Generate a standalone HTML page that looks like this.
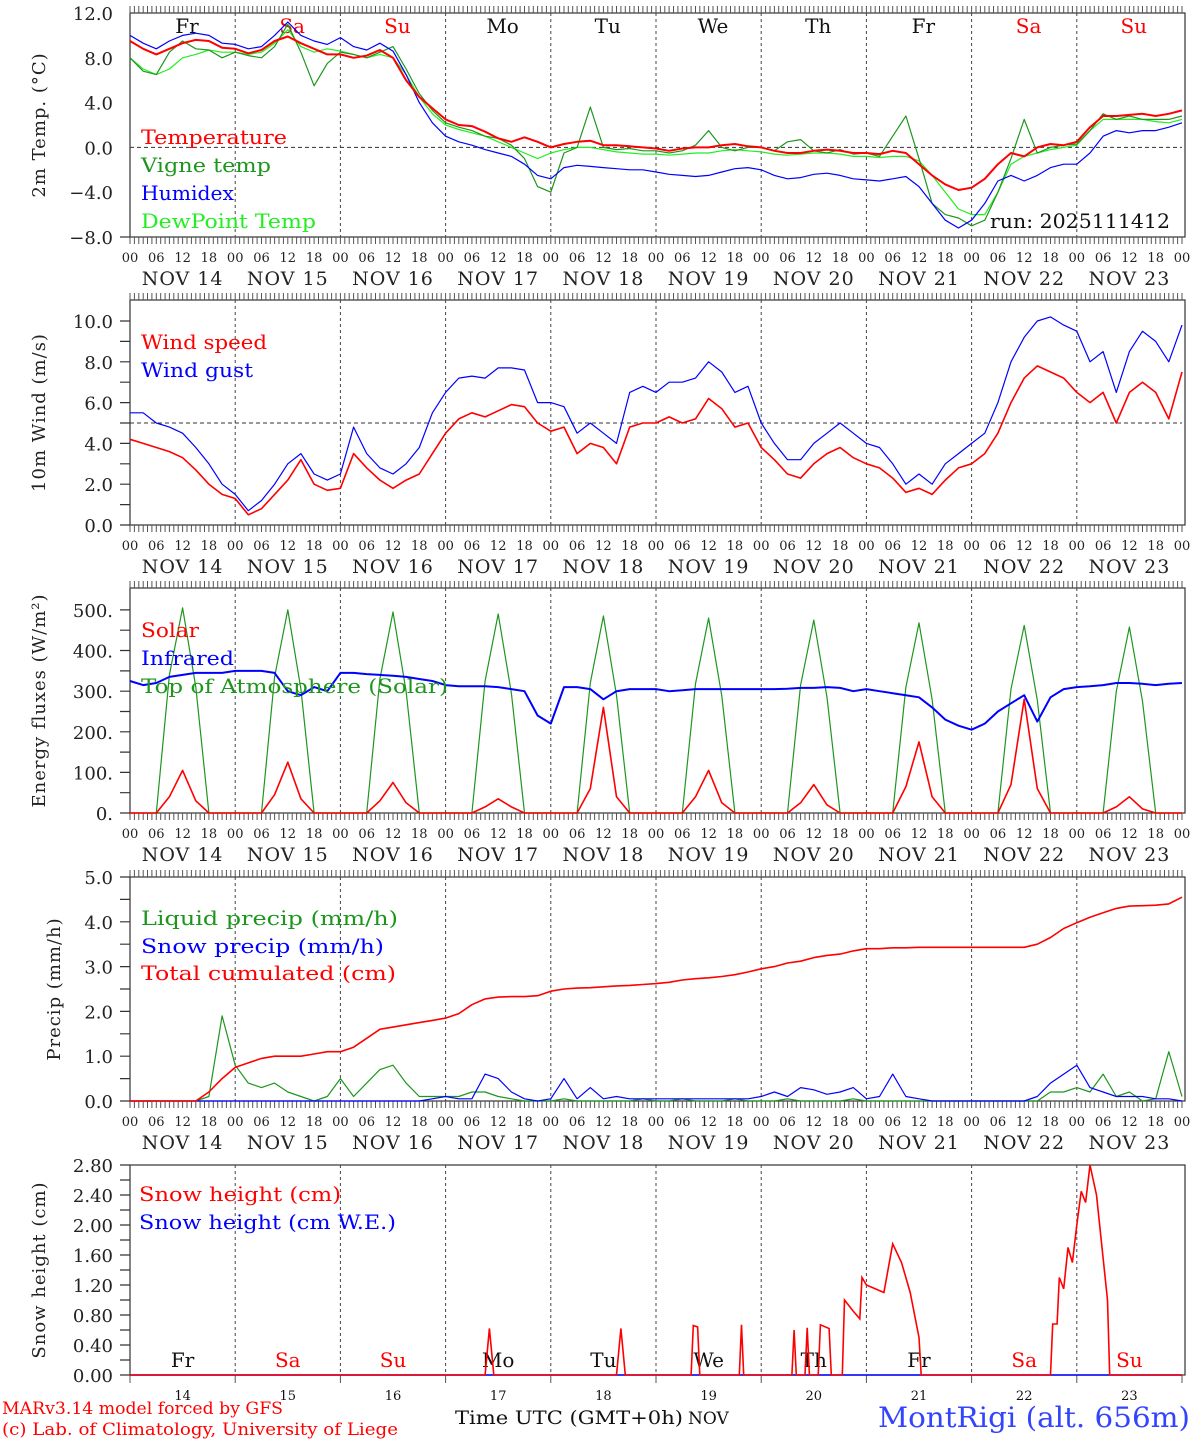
<!DOCTYPE html>
<html><head><meta charset="utf-8"><style>
html,body{margin:0;padding:0;background:#fff;}
svg{display:block;font-family:"DejaVu Serif","Liberation Serif",serif;}
</style></head><body>
<svg id="chart" width="1194" height="1440" viewBox="0 0 1194 1440" xmlns="http://www.w3.org/2000/svg"></svg>
<script>
// ---- data (3-hourly from NOV 14 00 UTC to NOV 24 00 UTC) ----
const dayNames = ["Fr","Sa","Su","Mo","Tu","We","Th","Fr","Sa","Su"];
const dayNums = ["14","15","16","17","18","19","20","21","22","23"];
const hourLabels = ["00","06","12","18"];
const temperature = [9.5,8.8,8.3,8.8,9.3,9.6,9.5,8.9, 8.8,8.4,8.7,9.5,9.9,9.3,8.8,8.3, 8.3,8.0,8.2,8.7,8.0,6.0,4.5,3.5, 2.5,2.0,1.9,1.4,0.8,0.5,0.9,0.5, 0.0,0.3,0.5,0.6,0.2,0.2,0.1,0.0, -0.1,-0.3,-0.1,0.0,0.0,0.2,0.3,0.1, 0.0,-0.3,-0.5,-0.5,-0.3,-0.2,-0.3,-0.5, -0.5,-0.6,-0.3,-0.5,-1.5,-2.5,-3.3,-3.8, -3.6,-2.8,-1.5,-0.5,-0.8,0.0,0.3,0.2, 0.5,1.8,2.8,2.8,2.9,3.0,2.8,3.0,3.3];
const vigneTemp = [8.0,6.8,6.5,8.5,9.5,8.8,8.7,8.0, 8.5,8.2,8.0,9.0,11.0,8.5,5.5,7.5, 8.5,8.3,8.0,8.5,9.0,7.0,4.8,3.3, 2.2,1.8,1.5,1.0,0.8,0.2,-1.0,-3.5, -4.0,-0.5,0.0,3.6,0.0,-0.2,-0.1,-0.3, -0.3,-0.5,-0.3,0.2,1.5,0.0,-0.3,0.0, 0.0,-0.3,0.5,0.7,-0.3,-0.5,-0.2,-0.6, -0.5,-0.8,1.0,2.8,-1.0,-5.0,-6.0,-6.3, -7.0,-6.5,-4.0,-1.0,2.5,-0.5,0.0,0.2, 0.3,1.5,3.0,2.5,2.8,2.5,2.5,2.5,2.8];
const humidex = [10.0,9.3,8.8,9.5,10.0,10.2,10.0,9.3, 9.2,8.8,9.0,10.0,11.2,10.0,9.5,9.2, 9.8,9.0,8.7,9.3,8.6,6.5,4.0,2.2, 1.0,0.5,0.2,-0.2,-0.5,-0.8,-1.5,-2.5, -2.8,-1.8,-1.6,-1.7,-1.8,-1.9,-2.0,-2.0, -2.2,-2.4,-2.5,-2.6,-2.5,-2.2,-1.9,-1.8, -2.0,-2.5,-2.8,-2.7,-2.4,-2.3,-2.5,-2.8, -2.9,-3.0,-2.8,-2.6,-3.5,-5.0,-6.5,-7.2, -6.5,-5.0,-3.0,-2.5,-3.0,-2.5,-1.8,-1.5, -1.5,-0.5,1.0,1.5,1.3,1.5,1.5,1.8,2.2];
const dewPoint = [8.0,7.0,6.5,7.0,8.0,8.3,8.7,8.5, 8.5,8.3,8.5,9.3,10.5,9.0,8.5,8.8, 8.6,8.3,8.0,8.3,8.0,6.5,4.5,3.0, 2.0,1.6,1.3,1.0,0.5,0.0,-0.5,-1.0, -0.5,-0.2,0.0,0.0,-0.2,-0.4,-0.5,-0.6, -0.6,-0.7,-0.6,-0.5,-0.5,-0.3,-0.2,-0.3, -0.4,-0.6,-0.7,-0.6,-0.5,-0.5,-0.6,-0.8, -0.8,-0.9,-0.8,-0.8,-1.2,-2.5,-4.0,-5.5, -6.0,-6.0,-4.0,-1.5,-0.8,-0.5,-0.2,0.0, 0.2,1.5,2.5,2.5,2.5,2.5,2.3,2.2,2.5];
const windSpeed = [4.2,4.0,3.8,3.6,3.3,2.7,2.0,1.5, 1.3,0.5,0.8,1.5,2.2,3.2,2.0,1.7, 1.8,3.5,2.8,2.2,1.8,2.2,2.5,3.5, 4.5,5.2,5.5,5.3,5.6,5.9,5.8,5.0, 4.6,4.8,3.5,4.0,3.8,3.0,4.8,5.0, 5.0,5.3,5.0,5.2,6.2,5.7,4.8,5.0, 3.8,3.2,2.5,2.3,3.0,3.5,3.8,3.3, 3.0,2.8,2.3,1.6,1.8,1.5,2.2,2.8, 3.0,3.5,4.5,6.0,7.2,7.8,7.5,7.2, 6.5,6.0,6.5,5.0,6.5,7.0,6.5,5.2,7.5];
const windGust = [5.5,5.5,5.0,4.8,4.5,3.8,3.0,2.0, 1.5,0.7,1.2,2.0,3.0,3.5,2.5,2.2, 2.5,4.8,3.5,2.8,2.5,3.0,3.8,5.5, 6.5,7.2,7.3,7.2,7.7,7.7,7.6,6.0, 6.0,5.8,4.5,5.0,4.5,4.0,6.5,6.8, 6.5,7.0,7.0,7.2,8.0,7.5,6.5,6.8, 5.0,4.0,3.2,3.2,4.0,4.5,5.0,4.5, 4.0,3.8,3.0,2.0,2.5,2.0,3.0,3.5, 4.0,4.5,6.0,8.0,9.2,10.0,10.2,9.8, 9.5,8.0,8.5,6.5,8.5,9.5,9.0,8.0,9.8];
const solar = [0,0,0,40,105,30,0,0, 0,0,0,45,125,35,0,0, 0,0,0,30,75,25,0,0, 0,0,0,15,35,15,0,0, 0,0,0,60,260,40,0,0, 0,0,0,40,105,25,0,0, 0,0,0,25,70,20,0,0, 0,0,0,65,175,40,0,0, 0,0,0,70,280,60,0,0, 0,0,0,15,40,10,0,0,0];
const toaSolar = [0,0,0,340,505,310,0,0, 0,0,0,335,500,305,0,0, 0,0,0,330,495,300,0,0, 0,0,0,325,490,295,0,0, 0,0,0,320,485,290,0,0, 0,0,0,318,480,288,0,0, 0,0,0,315,475,285,0,0, 0,0,0,310,468,280,0,0, 0,0,0,305,462,278,0,0, 0,0,0,300,458,275,0,0,0];
const infrared = [325,315,320,335,340,345,345,345, 350,350,350,345,300,290,310,300, 345,345,342,340,338,335,330,325, 315,312,312,312,310,305,300,240, 220,310,310,305,280,300,305,305, 305,300,302,305,305,305,305,305, 305,305,306,308,308,310,308,300, 305,300,295,290,285,260,230,215, 205,220,250,270,290,225,285,305, 310,312,315,320,320,318,315,318,320];
const liquidPrecip = [0,0,0,0,0,0,0.1,1.9, 0.8,0.4,0.3,0.4,0.2,0.1,0,0.1, 0.5,0.1,0.4,0.7,0.8,0.4,0.1,0.1, 0.1,0.1,0.2,0.2,0.1,0.05,0,0, 0,0.05,0,0,0,0,0,0.05, 0,0,0.05,0,0,0,0.05,0, 0,0,0.05,0,0,0,0,0.05, 0,0,0,0,0,0,0,0, 0,0,0,0,0,0,0.2,0.2, 0.3,0.2,0.6,0.1,0.2,0,0.05,1.1,0.1];
const snowPrecip = [0,0,0,0,0,0,0,0, 0,0,0,0,0,0,0,0, 0,0,0,0,0,0,0,0.05, 0.1,0.05,0.05,0.6,0.5,0.2,0.05,0, 0.05,0.5,0.05,0.3,0.05,0.1,0.05,0.05, 0.05,0.05,0.05,0.05,0.05,0.05,0.05,0.05, 0.1,0.2,0.1,0.3,0.25,0.15,0.2,0.3, 0.05,0.1,0.6,0.1,0.05,0,0,0, 0,0,0,0,0,0.1,0.4,0.6, 0.8,0.3,0.2,0.1,0.1,0.1,0.05,0.05,0];
const totalCum = [0,0,0,0,0,0,0.2,0.5, 0.75,0.85,0.95,1.0,1.0,1.0,1.05,1.1, 1.1,1.2,1.4,1.6,1.65,1.7,1.75,1.8, 1.85,1.95,2.15,2.28,2.32,2.33,2.33,2.35, 2.45,2.5,2.52,2.53,2.55,2.57,2.58,2.6, 2.62,2.65,2.7,2.73,2.75,2.78,2.82,2.88, 2.95,3.0,3.08,3.12,3.2,3.25,3.28,3.35, 3.4,3.4,3.42,3.42,3.43,3.43,3.43,3.43, 3.43,3.43,3.43,3.43,3.43,3.5,3.65,3.85, 3.98,4.1,4.2,4.3,4.35,4.36,4.37,4.4,4.55];
const snowHours = [0,81,82,83,111,112,113,128,128.5,129.5,130,139,139.5,140,151,151.5,152,154,154.5,155,157,157.5,159.5,160,162.5,163,165,166.5,167,168,172,174,176,178,180,180.5,210,210.5,211.5,212,213,214,215,216,217,218,219,220.5,223,223.5,240];
const snowHeight = [0,0,0.62,0,0,0.62,0,0,0.66,0.64,0,0,0.67,0,0,0.6,0,0,0.63,0,0,0.67,0.62,0,0,1.0,0.85,0.75,1.3,1.2,1.1,1.75,1.5,1.1,0.5,0,0,0.68,0.68,1.3,1.15,1.7,1.5,2.0,2.45,2.3,2.8,2.4,1.0,0,0];
const snowWE = [0,0,0,0,0,0,0,0,0,0,0];

// ---- layout ----
const svg = document.getElementById('chart');
const NS = 'http://www.w3.org/2000/svg';
const X0 = 130, X1 = 1182, HOURS = 240;
const X = h => X0 + h * (X1 - X0) / HOURS;
const RED = '#ff0000', GREEN = '#1e961e', BLUE = '#0000ff', LGREEN = '#22ee22';
function el(tag, attrs, parent) {
  const e = document.createElementNS(NS, tag);
  for (const k in attrs) e.setAttribute(k, attrs[k]);
  (parent || svg).appendChild(e);
  return e;
}
function txt(s, x, y, size, color, anchor, parent) {
  const t = el('text', {x: x, y: y, 'font-size': size, fill: color, 'text-anchor': anchor || 'start'}, parent);
  t.textContent = s;
  return t;
}
const panels = [
  {name: 'temperature-panel', top: 13, bot: 237, vmin: -8, vmax: 12, frameTop: 13, ticks: [12,8,4,0,-4,-8], minor: 2, dec: 1, title: '2m Temp. (\u00B0C)', tx: 45},
  {name: 'wind-panel', top: 300, bot: 525, vmin: 0, vmax: 11.03, frameTop: 300, ticks: [0,2,4,6,8,10], minor: 1, dec: 1, title: '10m Wind (m/s)', tx: 45},
  {name: 'energy-panel', top: 588, bot: 813, vmin: 0, vmax: 554, frameTop: 588, ticks: [0,100,200,300,400,500], minor: 50, dec: -1, title: 'Energy fluxes (W/m\u00B2)', tx: 45},
  {name: 'precip-panel', top: 877, bot: 1101, vmin: 0, vmax: 5, frameTop: 877, ticks: [0,1,2,3,4,5], minor: 0.5, dec: 1, title: 'Precip (mm/h)', tx: 60},
  {name: 'snow-panel', top: 1165, bot: 1375, vmin: 0, vmax: 2.8, frameTop: 1165, ticks: [0,0.4,0.8,1.2,1.6,2.0,2.4,2.8], minor: 0.2, dec: 2, title: 'Snow height (cm)', tx: 45}
];
panels.forEach((p, pi) => {
  p.Y = v => p.bot - (v - p.vmin) * (p.bot - p.top) / (p.vmax - p.vmin);
  const g = el('g', {});
  
  
  const fr = el('rect', {x: X0, y: p.frameTop, width: X1 - X0 + 3, height: p.bot - p.frameTop, fill: 'none', stroke: '#333', 'stroke-width': 1.2}, g);
  
  
  let d = '';
  for (let h = 0; h <= HOURS; h++) {
    const x = X(h).toFixed(1);
    if (pi === 4) { if (h % 24 === 0) d += `M${x} ${p.bot}v8`; continue; }
    d += `M${x} ${p.frameTop}v-7M${x} ${p.bot}v7`;
  }
  const tk = el('path', {d: d, stroke: '#555', 'stroke-width': 1, fill: 'none'}, g);
  
  
  let yd = '';
  for (let v = p.vmin; v <= p.ticks[p.ticks.length - 1] + 1e-6; v += p.minor) yd += `M${X0 - 10} ${p.Y(v).toFixed(1)}h10`;
  const yt = el('path', {d: yd, stroke: '#333', 'stroke-width': 1.2}, g);
  
  
  p.ticks.forEach(v => {
    let lab = p.dec < 0 ? v + '.' : Math.abs(v).toFixed(p.dec);
    if (v < 0) lab = '\u2212' + lab;
    const t = txt(lab, 113, p.Y(v) + 7, 18, '#222', 'end', g);
    
    
  });
  const cy = (p.top + p.bot) / 2;
  const yt2 = el('text', {x: p.tx, y: cy, 'font-size': 18, fill: '#222', 'text-anchor': 'middle', transform: `rotate(-90 ${p.tx} ${cy})`, 'letter-spacing': 1}, g);
  yt2.textContent = p.title;
  
  
  let dd = '';
  for (let k = 1; k < 10; k++) dd += `M${X(k*24).toFixed(1)} ${p.frameTop}V${p.bot}`;
  const ds = el('path', {d: dd, stroke: '#444', 'stroke-width': 1, 'stroke-dasharray': '3,3'}, g);
  
  
  if (pi < 4) {
    for (let k = 0; k < 10; k++) {
      hourLabels.forEach((hl, j) => {
        const t = txt(hl, X(k*24 + j*6), p.bot + 25, 13, '#222', 'middle', g);
        
        
      });
      const t2 = txt('NOV ' + dayNums[k], X(k*24 + 12), p.bot + 48, 19, '#222', 'middle', g);
      t2.setAttribute('letter-spacing', '1');
      
      
    }
    const t3 = txt('00', X(240), p.bot + 25, 13, '#222', 'middle', g);
    
    
  }
});
const z0 = el('line', {x1: X0, x2: X1, y1: panels[0].Y(0), y2: panels[0].Y(0), stroke: '#333', 'stroke-dasharray': '4,3'});


const w5 = el('line', {x1: X0, x2: X1, y1: panels[1].Y(5), y2: panels[1].Y(5), stroke: '#333', 'stroke-dasharray': '4,3'});



for (let k = 0; k < 10; k++) {
  const c = (dayNames[k] === 'Sa' || dayNames[k] === 'Su') ? RED : '#111';
  const t = txt(dayNames[k], X(k*24 + 13), 33, 20, c, 'middle');
  
  
  const t2 = txt(dayNames[k], X(k*24 + 12), 1367, 20, c, 'middle');
  
  
  const t3 = txt(dayNums[k], X(k*24 + 12), 1400, 13, '#111', 'middle');
  
  
}

function series(p, vals, color, w, name) {
  const pts = vals.map((v, i) => X(i * 3).toFixed(1) + ',' + p.Y(v).toFixed(1)).join(' ');
  const l = el('polyline', {points: pts, fill: 'none', stroke: color, 'stroke-width': w, 'stroke-linejoin': 'round'});
  
  
}
function legend(s, x, y, color, len, name, size) {
  const t = txt(s, x, y, size || 20, color, 'start');
  t.setAttribute('textLength', len);
  t.setAttribute('lengthAdjust', 'spacingAndGlyphs');
  
  
}
const P = panels;
series(P[0], dewPoint, LGREEN, 1.2, 'dewpoint-line');
series(P[0], vigneTemp, GREEN, 1.2, 'vigne-temp-line');
series(P[0], humidex, BLUE, 1.2, 'humidex-line');
series(P[0], temperature, RED, 2, 'temperature-line');
legend('Temperature', 141, 144, RED, 146, 'legend-temperature');
legend('Vigne temp', 141, 172, GREEN, 130, 'legend-vigne-temp');
legend('Humidex', 141, 200, BLUE, 93, 'legend-humidex');
legend('DewPoint Temp', 141, 228, LGREEN, 175, 'legend-dewpoint');
legend('run: 2025111412', 990, 228, '#111', 180, 'run-label');

series(P[1], windGust, BLUE, 1.2, 'wind-gust-line');
series(P[1], windSpeed, RED, 1.6, 'wind-speed-line');
legend('Wind speed', 141, 349, RED, 126, 'legend-wind-speed');
legend('Wind gust', 141, 377, BLUE, 112, 'legend-wind-gust');

series(P[2], toaSolar, GREEN, 1.2, 'toa-solar-line');
series(P[2], solar, RED, 1.6, 'solar-line');
series(P[2], infrared, BLUE, 2, 'infrared-line');
legend('Solar', 141, 637, RED, 58, 'legend-solar');
legend('Infrared', 141, 665, BLUE, 93, 'legend-infrared');
legend('Top of Atmosphere (Solar)', 141, 693, GREEN, 307, 'legend-toa');

series(P[3], liquidPrecip, GREEN, 1.2, 'liquid-precip-line');
series(P[3], snowPrecip, BLUE, 1.2, 'snow-precip-line');
series(P[3], totalCum, RED, 1.6, 'total-cumulated-line');
legend('Liquid precip (mm/h)', 141, 925, GREEN, 257, 'legend-liquid');
legend('Snow precip (mm/h)', 141, 953, BLUE, 243, 'legend-snow-precip');
legend('Total cumulated (cm)', 141, 980, RED, 255, 'legend-total');

const snowPts = snowHours.map((h, i) => X(h).toFixed(1) + ',' + P[4].Y(snowHeight[i]).toFixed(1)).join(' ');
const weLine = el('polyline', {points: snowWE.map((v, i) => X(i * 24).toFixed(1) + ',' + P[4].Y(v).toFixed(1)).join(' '), fill: 'none', stroke: BLUE, 'stroke-width': 1.5});


const sl = el('polyline', {points: snowPts, fill: 'none', stroke: RED, 'stroke-width': 1.6});


legend('Snow height (cm)', 139, 1201, RED, 202, 'legend-snow-height');
legend('Snow height (cm W.E.)', 139, 1229, BLUE, 257, 'legend-snow-we');

legend('MARv3.14 model forced by GFS', 2, 1414, RED, 281, 'credit-model', 17);
legend('(c) Lab. of Climatology, University of Liege', 2, 1435, RED, 396, 'credit-lab', 17);
const ft = txt('Time UTC (GMT+0h)', 455, 1424, 19, '#111', 'start');
ft.setAttribute('textLength', 228);
ft.setAttribute('lengthAdjust', 'spacingAndGlyphs');


const nv = txt('NOV', 688, 1424, 17, '#111', 'start');


const st = txt('MontRigi (alt. 656m)', 878, 1427, 28, '#3344ff', 'start');
st.setAttribute('textLength', 312);
st.setAttribute('lengthAdjust', 'spacingAndGlyphs');


</script>
</body></html>
